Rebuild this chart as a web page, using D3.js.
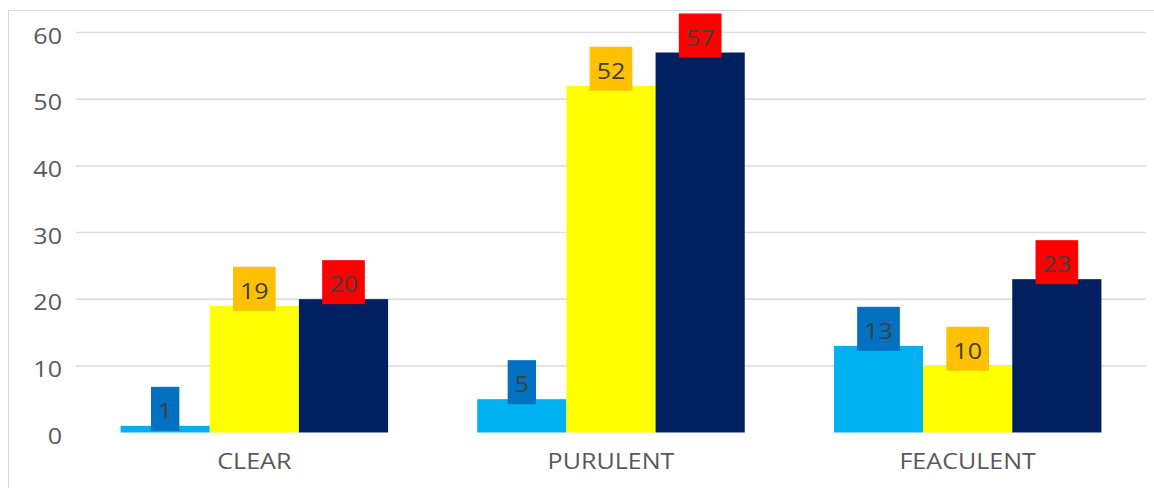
<!DOCTYPE html>
<html>
<head>
<meta charset="utf-8">
<script src="https://cdn.jsdelivr.net/npm/d3@7"></script>
<style>
  html, body { margin: 0; padding: 0; background: #fff; }
  svg { display: block; font-family: "Open Sans", sans-serif; }
</style>
</head>
<body>
<svg id="chart" width="1154" height="488"></svg>
<script>
const categories = ["CLEAR", "PURULENT", "FEACULENT"];
const seriesNames = ["Series 1", "Series 2", "Series 3"];
const series1 = [1, 5, 13];
const series2 = [19, 52, 10];
const series3 = [20, 57, 23];
const yTicks = [0, 10, 20, 30, 40, 50, 60];

const barColors = ["#00B0F0", "#FFFF00", "#002060"];
const labelBoxColors = ["#0070C0", "#FFC000", "#FF0000"];

const allSeries = [series1, series2, series3];

const svg = d3.select("#chart");
const W = 1154, H = 488;
const plotLeft = 76, plotRight = 1146, plotTop = 32.5, plotBottom = 432.5;
const FONT = "'Open Sans', sans-serif";
const FS = 22.4;
const STRETCH = 1.12;

// outer border
svg.append("rect")
  .attr("x", 8.5).attr("y", 10.5)
  .attr("width", W + 10).attr("height", H + 10)
  .attr("fill", "none").attr("stroke", "#d9d9d9").attr("stroke-width", 1);

const y = d3.scaleLinear().domain([0, 60]).range([plotBottom, plotTop]);
const x0 = d3.scaleBand().domain(categories).range([plotLeft, plotRight])
  .paddingInner(0.25).paddingOuter(0.125);
const x1 = d3.scaleBand().domain(seriesNames).range([0, x0.bandwidth()]).padding(0);

// gridlines
svg.append("g").selectAll("line")
  .data(yTicks.filter(t => t > 0))
  .join("line")
  .attr("x1", plotLeft).attr("x2", plotRight)
  .attr("y1", d => y(d)).attr("y2", d => y(d))
  .attr("stroke", "#dedede").attr("stroke-width", 1.6);

// y axis labels
const yAxis = d3.axisLeft(y).tickValues(yTicks).tickSize(0).tickPadding(0);
const gy = svg.append("g").attr("transform", `translate(62,0)`).call(yAxis);
gy.select(".domain").remove();
gy.selectAll("text")
  .attr("font-family", FONT)
  .attr("font-size", FS)
  .attr("fill", "#595959")
  .attr("dy", null)
  .attr("y", 10.5)
  .attr("transform", `scale(${STRETCH},1)`);

// x axis labels
const xAxis = d3.axisBottom(x0).tickSize(0).tickPadding(0);
const gx = svg.append("g").attr("transform", `translate(0,469)`).call(xAxis);
gx.select(".domain").remove();
gx.selectAll("text")
  .attr("font-family", FONT)
  .attr("font-size", FS)
  .attr("fill", "#595959")
  .attr("y", 0)
  .attr("dy", null)
  .attr("transform", `scale(${STRETCH},1)`);

// bars
const groups = svg.append("g").selectAll("g")
  .data(categories)
  .join("g")
  .attr("transform", d => `translate(${x0(d)},0)`);

groups.selectAll("rect")
  .data((c, ci) => seriesNames.map((s, si) => ({ s, si, v: allSeries[si][ci] })))
  .join("rect")
  .attr("x", d => x1(d.s))
  .attr("y", d => y(d.v))
  .attr("width", x1.bandwidth())
  .attr("height", d => y(0) - y(d.v))
  .attr("fill", d => barColors[d.si]);

// data labels
const labels = groups.selectAll("g.lab")
  .data((c, ci) => seriesNames.map((s, si) => ({ s, si, v: allSeries[si][ci] })))
  .join("g")
  .attr("class", "lab")
  .attr("transform", d => `translate(${x1(d.s) + x1.bandwidth() / 2},${y(d.v)})`);

labels.each(function(d) {
  const g = d3.select(this);
  const rect = g.append("rect").attr("fill", labelBoxColors[d.si]);
  const t = g.append("text")
    .attr("text-anchor", "middle")
    .attr("font-family", FONT)
    .attr("font-size", FS)
    .attr("fill", "#404040")
    .attr("y", -7)
    .attr("transform", `scale(${STRETCH},1)`)
    .text(d.v);
  const w = t.node().getComputedTextLength() * STRETCH + 14;
  rect.attr("x", -w / 2).attr("y", -39).attr("width", w).attr("height", 44);
});
</script>
</body>
</html>
